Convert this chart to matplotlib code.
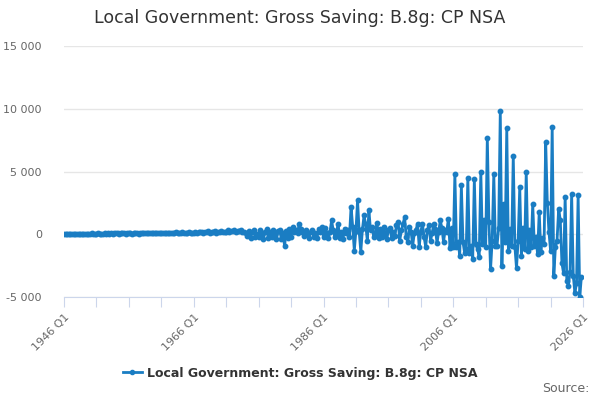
import numpy as np
import matplotlib
matplotlib.use("Agg")
import matplotlib.pyplot as plt
from matplotlib.lines import Line2D
from matplotlib.ticker import FuncFormatter

# Quarterly values, 1946 Q1 .. 2025 Q4 (GBP million).
saving_1946_1965 = [
    30, 45, 25, 40, 35, 50, 30, 45, 40, 55, 30, 45, 40, 55, 35, 50,
    45, 60, 35, 50, 45, 65, 40, 55, 50, 70, 40, 60, 55, 75, 45, 60,
    60, 80, 45, 65, 60, 85, 50, 70, 65, 90, 50, 75, 70, 95, 55, 80,
    75, 100, 60, 85, 80, 110, 60, 90, 85, 115, 65, 95, 90, 125, 70, 100,
    95, 135, 75, 110, 100, 145, 80, 120, 110, 155, 85, 125, 120, 165, 90, 135,
]
saving_1966_1985 = [
    130, 180, 100, 150, 140, 200, 110, 160, 150, 220, 120, 170,
    170, 240, 130, 190, 190, 270, 150, 210, 210, 300, 160, 240,
    240, 330, 180, 270, 260, 350, 200, 180, 100, -150, 250, -300,
    150, 350, -200, 50, -250, 300, 100, -350, 200, 400, -300, 150,
    -200, 350, 0, -400, 250, 300, -350, 100, -950, 250, -300, 400,
    -200, 550, 200, 350, 100, 800, 400, 200, -150, 300, 100, -300,
    200, 350, -250, 100, -300, 450, 150, 600,
]
saving_1986_2005 = [
    -200, 500, 100, -300, 200, 1100, 300, -200, 100, 850, -300, 200,
    -400, 450, 100, 300, -200, 2200, 600, -1300, 300, 2700, 200, -1400,
    400, 1500, 800, -500, 1900, 300, 600, -200, 100, 900, -300, 400,
    -200, 600, 100, -400, 300, 500, -300, 200, -100, 700, 1000, -500,
    300, 800, 1350, -200, -600, 600, 200, -900, 100, 300, 850, -1000,
    200, 850, -200, -1000, 300, 700, -500, 100, 850, 400, -700, 200,
    1100, 500, -600, 300, 200, 1250, -1100, 500,
]
saving_2006_2025 = [
    -1000, 4800, -1000, -600, -1700, 3900, -600, -1500,
    -1200, 4500, -1500, -900, -2000, 4400, -800, -1200,
    -1800, 4950, -800, 1100, -1000, 7700, 1000, -2800,
    -500, 4800, -900, -900, 500, 9800, -2500, 2450,
    -600, 8450, -1300, 450, -900, 6250, -1000, -2700,
    -500, 3750, -1700, 500, -1200, 4950, -1300, 300,
    -1000, 2400, -900, -200, -1600, 1800, -1400, -300,
    -800, 7350, 2500, 200, -1300, 8550, -3300, -1000,
    -500, 2050, 1100, -2300, -3100, 3000, -3700, -4100,
    -3000, 3200, -3300, -4700, -3900, 3100, -5000, -3400,
]
saving = saving_1946_1965 + saving_1966_1985 + saving_1986_2005 + saving_2006_2025

years = list(range(1946, 2027))
quarters = [f"{y} Q{q}" for y in years for q in range(1, 5)]

blue = "#1a7dc3"
grey = "#666666"

fig = plt.figure(figsize=(6, 4), dpi=100)
ax = fig.add_axes([64 / 600, 103 / 400, 519 / 600, 251 / 400])

x = np.arange(len(saving))
ax.plot(x, saving, color=blue, lw=2, marker="o", ms=3.2, zorder=3)

ax.set_xlim(0, 320)
ax.set_ylim(-5000, 15000)
ax.set_yticks(range(-5000, 15001, 5000))
ax.yaxis.set_major_formatter(FuncFormatter(lambda v, p: f"{v:,.0f}".replace(",", " ")))
ax.grid(axis="y", color="#e6e6e6", lw=1)
ax.set_axisbelow(True)

ticks = list(range(0, 321, 20))
ax.set_xticks(ticks)
ax.set_xticklabels([quarters[t] if t % 80 == 0 else "" for t in ticks],
                   rotation=45, ha="right", rotation_mode="anchor")

for side in ["left", "top", "right"]:
    ax.spines[side].set_visible(False)
ax.spines["bottom"].set_color("#ccd6eb")
ax.tick_params(axis="x", length=7, color="#ccd6eb", labelsize=8, labelcolor=grey, pad=4)
ax.tick_params(axis="y", length=0, labelsize=8, labelcolor=grey, pad=16)

fig.text(0.5, 1 - 18 / 400, "Local Government: Gross Saving: B.8g: CP NSA",
         ha="center", va="center", fontsize=12.5, color="#333333")

handle = Line2D([], [], color=blue, lw=2, marker="o", ms=3)
fig.legend([handle], ["Local Government: Gross Saving: B.8g: CP NSA"],
           loc="center", bbox_to_anchor=(0.5, 1 - 373 / 400), frameon=False,
           prop={"weight": "bold", "size": 9}, labelcolor="#333333",
           handlelength=1.5, handletextpad=0.4)

fig.text(0.982, 1 - 389 / 400, "Source:", ha="right", va="center", fontsize=9, color=grey)

fig.savefig("out.png", dpi=100)
